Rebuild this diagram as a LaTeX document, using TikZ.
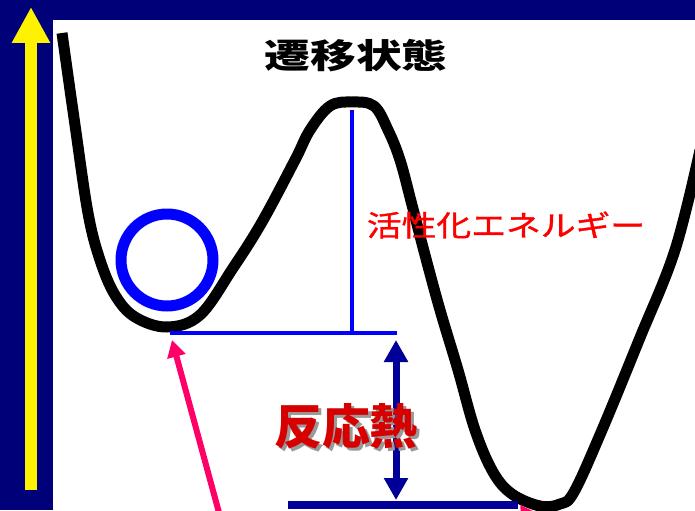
\documentclass[tikz,border=0pt]{standalone}
\usepackage{fontspec}
\newfontfamily\jpwide[FakeStretch=1.35]{Noto Sans CJK JP}
\newfontfamily\jpmid[FakeStretch=1.2, FakeBold=1.2]{Noto Sans CJK JP}
\newfontfamily\jpfont{Noto Sans CJK JP}
\usetikzlibrary{arrows.meta,positioning}
\definecolor{bgnavy}{RGB}{0,0,120}
\definecolor{arrownavy}{RGB}{0,0,153}
\definecolor{hotpink}{RGB}{255,0,102}
\definecolor{heatred}{RGB}{215,0,0}

\begin{document}
\begin{tikzpicture}[
    x=0.02cm, y=-0.02cm,
    every node/.style={inner sep=0pt},
    curve/.style={line width=0.22cm, line join=round},
    level/.style={draw=blue, line width=0.07cm},
    ball/.style={circle, draw=blue, line width=0.22cm, minimum size=1.84cm},
    yarrow/.style={-{Triangle[length=0.72cm, width=0.72cm]}, draw=yellow, line width=0.24cm},
    heatarrow/.style={{Triangle[length=0.44cm, width=0.46cm]}-{Triangle[length=0.44cm, width=0.46cm]}, draw=arrownavy, line width=0.14cm},
    pointer/.style={-{Triangle[length=0.34cm, width=0.36cm]}, draw=hotpink, line width=0.12cm},
    title/.style={font=\jpwide\bfseries\fontsize{19.3pt}{20pt}\selectfont},
    ealabel/.style={text=red, font=\jpmid\fontsize{16.5pt}{17pt}\selectfont},
    heatlabel/.style={text=heatred, font=\jpfont\bfseries\fontsize{27.3pt}{28pt}\selectfont}
]
\useasboundingbox (0,0) rectangle (695,510);
\clip (0,0) rectangle (695,510);
\fill[bgnavy] (0,0) rectangle (695,510);
\fill[white] (53,20) rectangle (695,510);

% energy axis
\coordinate (ybot) at (31,490);
\coordinate (ytop) at (31,7);
\draw[yarrow] (ybot) -- (ytop);

% potential curve
\draw[curve] plot[smooth, tension=0.6] coordinates {
  (62,33) (75,125) (88,213) (100,260) (115,295) (135,317) (167,327)
  (200,315) (233,268) (262,222) (295,160) (310,130) (330,106) (352,102)
  (374,106) (388,130) (400,160) (412,205) (425,255) (440,310) (458,370)
  (475,430) (493,472) (512,494) (540,506) (560,504) (574,492) (602,430)
  (639,340) (675,250) (700,150)};

\node[ball] (ball) at (167,260) {};

% levels
\coordinate (react) at (170,333);
\coordinate (peak) at (352,110);
\coordinate (peakfoot) at (352,333);
\coordinate (reactend) at (397,333);
\coordinate (prodstart) at (288,505);
\coordinate (prodend) at (518,505);
\draw[level] (react) -- (reactend);
\draw[level] (peak) -- (peakfoot);
\draw[arrownavy, line width=0.16cm] (prodstart) -- (prodend);
\draw[heatarrow] (396,500) -- (396,340);

% pointers
\coordinate (ptail) at (221,520);
\coordinate (ptail2) at (545,540);
\coordinate (ptip2) at (520,505);
\draw[pointer] (ptail) -- (172,340);
\draw[pointer] (ptail2) -- (ptip2);

% labels
\node[title] (ts) at (356,56) {遷移状態};
\node[ealabel] (ea) at (506,225) {活性化エネルギー};
\node[heatlabel, text=black!40] (heatshadow) at (349,429) {反応熱};
\node[heatlabel] (heat) at (346,426) {反応熱};
\end{tikzpicture}
\end{document}
